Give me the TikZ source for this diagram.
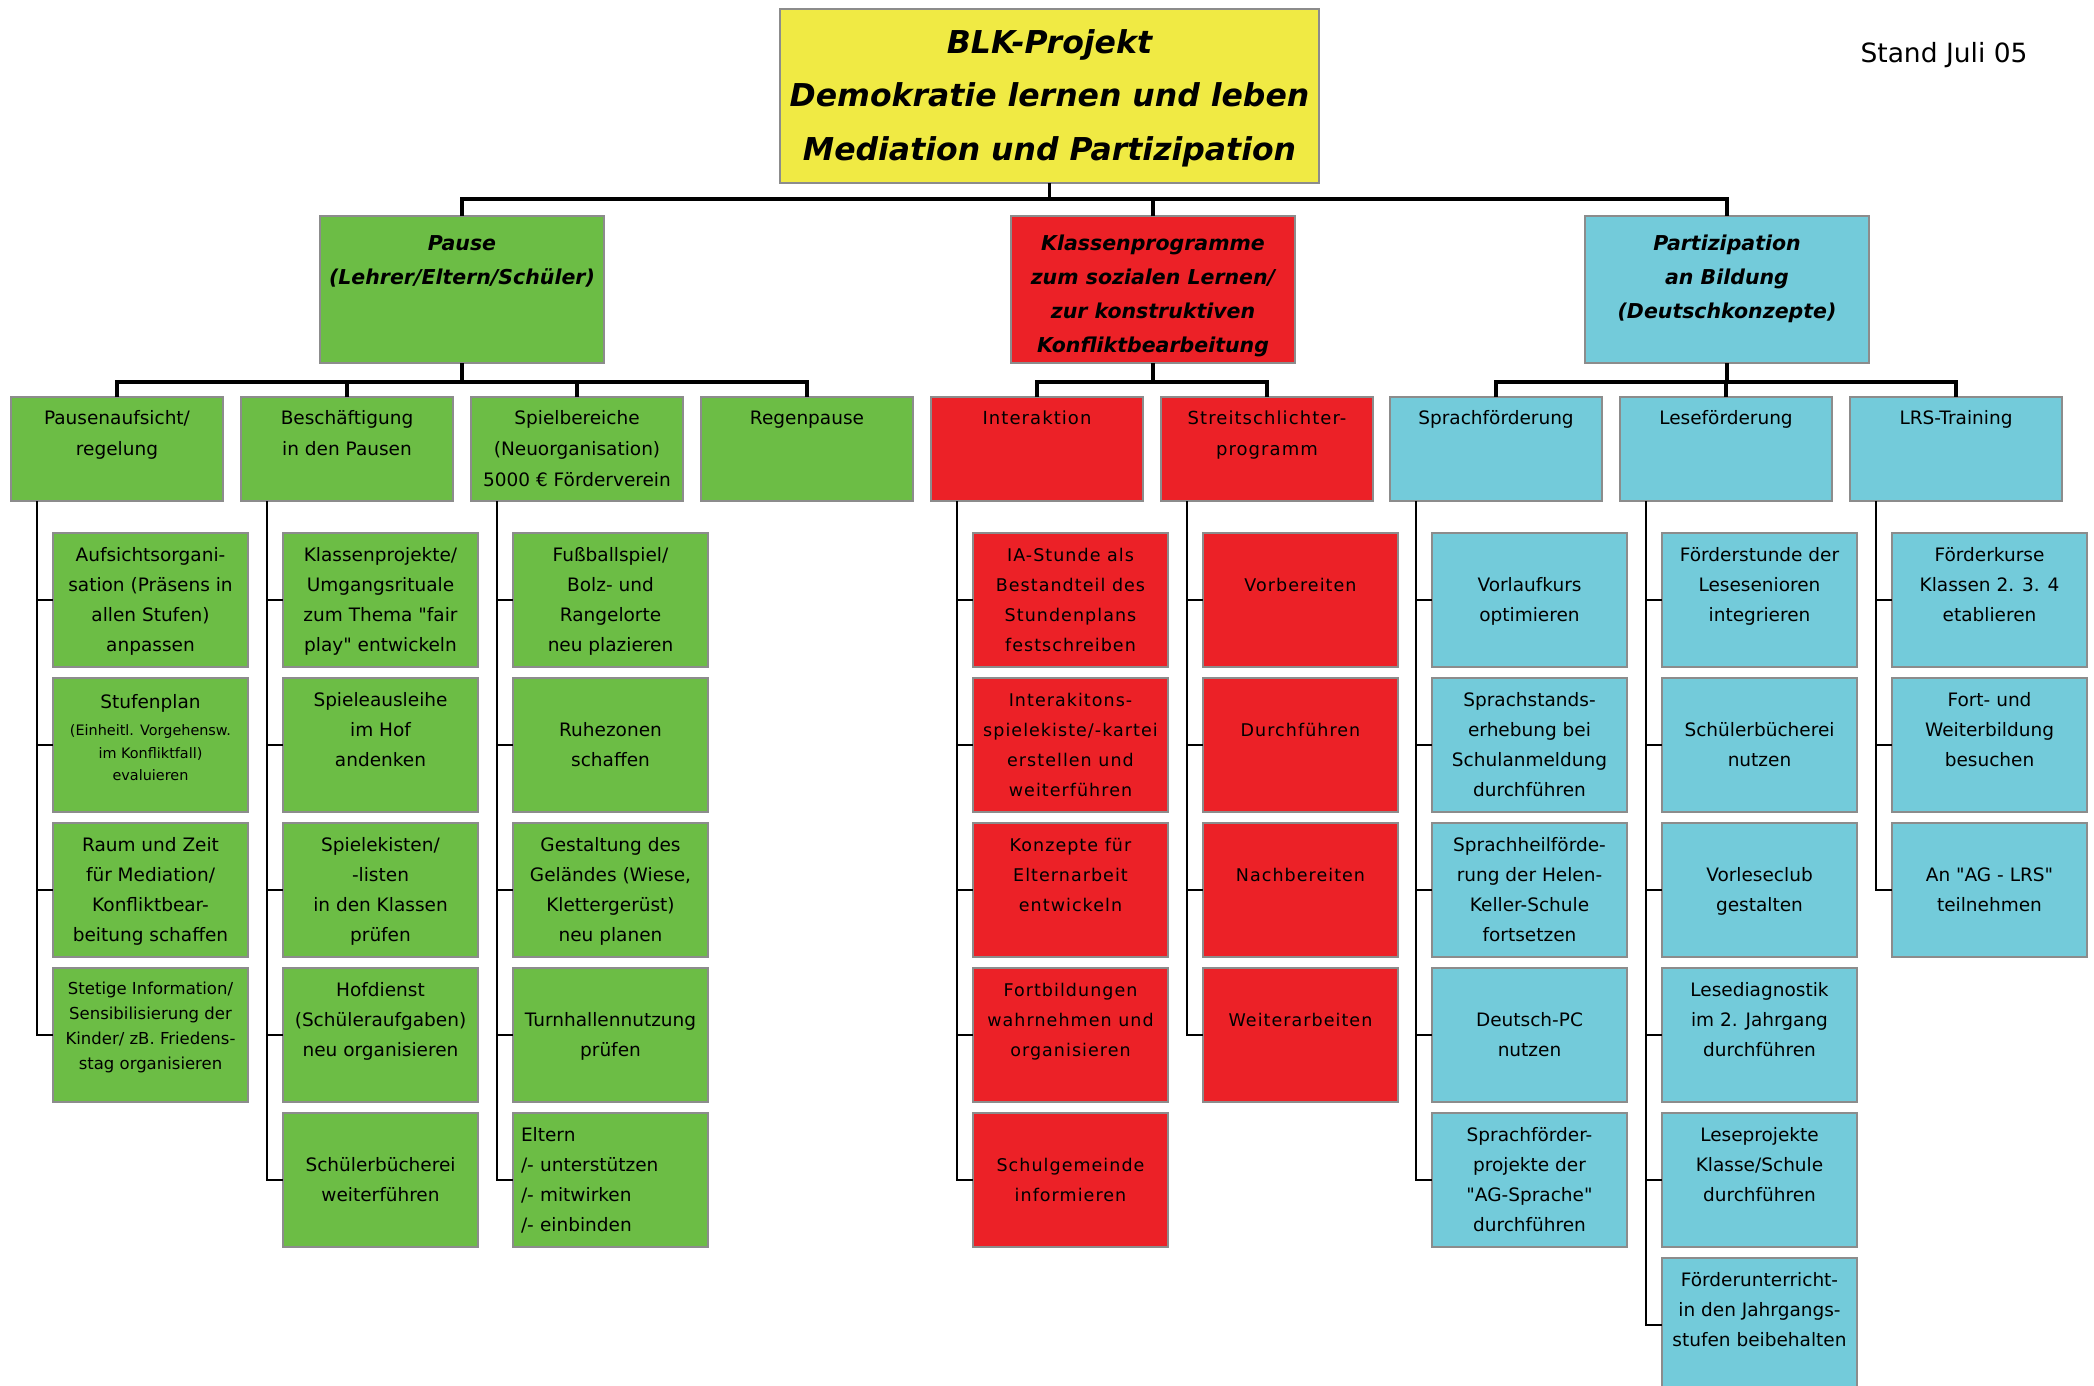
\documentclass[tikz,border=0pt]{standalone}
\usepackage{fontspec}
\setmainfont{DejaVu Sans}
\newfontfamily\redfont[LetterSpace=6]{DejaVu Sans}
\newfontfamily\qfont{DejaVu Sans}
\definecolor{cyel}{RGB}{240,234,68}
\definecolor{cgrn}{RGB}{108,189,69}
\definecolor{cred}{RGB}{236,33,39}
\definecolor{ccyn}{RGB}{115,203,218}
\definecolor{cbrd}{RGB}{140,140,140}
\newcommand\dq{{\qfont\symbol{34}}}
\newcommand\gthree[3]{\strut#1\\\strut#2\\\strut#3}
\newcommand\gfour[4]{\strut#1\\\strut#2\\\strut#3\\\strut#4}
\newcommand\hst{\rule[-5pt]{0pt}{34pt}}
\newcommand\hfour[4]{\hst#1\\\hst#2\\\hst#3\\\hst#4}
\newcommand\smA{\fontsize{14.4}{22}\selectfont}
\newcommand\smB{\fontsize{16.5}{25}\selectfont}
\tikzset{
  box/.style={draw=cbrd, line width=1.6pt, inner sep=0pt, outer sep=0pt, anchor=north west, align=center},
  titlebox/.style={box, fill=cyel, minimum width=539pt, minimum height=174pt, font=\fontsize{31.5}{53.5}\selectfont\bfseries\itshape},
  lone/.style={box, minimum width=284pt, minimum height=147pt, font=\fontsize{20.5}{34}\selectfont\bfseries\itshape},
  ltwo/.style={box, minimum width=212pt, minimum height=104pt, font=\fontsize{18.5}{31}\selectfont},
  ltwored/.style={ltwo, fill=cred, font=\redfont\fontsize{18}{31}\selectfont},
  lthree/.style={box, minimum width=195pt, minimum height=134pt, font=\fontsize{18.5}{30}\selectfont},
  lthreered/.style={lthree, fill=cred, font=\redfont\fontsize{17.5}{30}\selectfont},
  gbox/.style={fill=cgrn},
  rbox/.style={fill=cred},
  cbox/.style={fill=ccyn},
  bus/.style={line width=3.5pt, line join=miter},
  tree/.style={line width=1.8pt, black},
}
\begin{document}
\begin{tikzpicture}[x=1pt,y=-1pt]
\useasboundingbox (0,0) rectangle (2094,1386);

% title
\node[titlebox] (title) at (780,9) {\gthree{BLK-Projekt}{Demokratie lernen und leben}{Mediation und Partizipation}};
\node[font=\fontsize{26.5}{30}\selectfont] (stand) at (1944,55) {Stand Juli 05};

% level 1
\node[lone,gbox] (pause) at (320,216) {\hfour{Pause}{(Lehrer/Eltern/Schüler)}{}{}};
\node[lone,rbox] (klassen) at (1011,216) {\hfour{Klassenprogramme}{zum sozialen Lernen/}{zur konstruktiven}{Konfliktbearbeitung}};
\node[lone,cbox] (partiz) at (1585,216) {\hfour{Partizipation}{an Bildung}{(Deutschkonzepte)}{}};

% level 2
\node[ltwo,gbox] (pa) at (11,397) {\gthree{Pausenaufsicht/}{regelung}{}};
\node[ltwo,gbox] (be) at (241,397) {\gthree{Beschäftigung}{in den Pausen}{}};
\node[ltwo,gbox] (sp) at (471,397) {\gthree{Spielbereiche}{(Neuorganisation)}{5000 € Förderverein}};
\node[ltwo,gbox] (rp) at (701,397) {\gthree{Regenpause}{}{}};
\node[ltwored] (ia) at (931,397) {\gthree{Interaktion}{}{}};
\node[ltwored] (st) at (1161,397) {\gthree{Streitschlichter-}{programm}{}};
\node[ltwo,cbox] (sf) at (1390,397) {\gthree{Sprachförderung}{}{}};
\node[ltwo,cbox] (lf) at (1620,397) {\gthree{Leseförderung}{}{}};
\node[ltwo,cbox] (lr) at (1850,397) {\gthree{LRS-Training}{}{}};

% level 3: Pausenaufsicht
\node[lthree,gbox] (pa1) at (53,533) {\gfour{Aufsichtsorgani-}{sation (Präsens in}{allen Stufen)}{anpassen}};
\node[lthree,gbox] (pa2) at (53,678) {\strut Stufenplan\\[-3pt]\smA (Einheitl. Vorgehensw.\\[-7pt]\smA im Konfliktfall)\\[-8pt]\smA evaluieren\rule[-23pt]{0pt}{1pt}};
\node[lthree,gbox] (pa3) at (53,823) {\gfour{Raum und Zeit}{für Mediation/}{Konfliktbear-}{beitung schaffen}};
\node[lthree,gbox] (pa4) at (53,968) {\smB\rule{0pt}{17pt}Stetige Information/\\[-5pt]\smB Sensibilisierung der\\[-5pt]\smB Kinder/ zB. Friedens-\\[-5pt]\smB stag organisieren\rule[-24pt]{0pt}{1pt}};

% Beschaeftigung
\node[lthree,gbox] (be1) at (283,533) {\gfour{Klassenprojekte/}{Umgangsrituale}{zum Thema \dq fair}{play\dq{} entwickeln}};
\node[lthree,gbox] (be2) at (283,678) {\gfour{Spieleausleihe}{im Hof}{andenken}{}};
\node[lthree,gbox] (be3) at (283,823) {\gfour{Spielekisten/}{-listen}{in den Klassen}{prüfen}};
\node[lthree,gbox] (be4) at (283,968) {\gfour{Hofdienst}{(Schüleraufgaben)}{neu organisieren}{}};
\node[lthree,gbox] (be5) at (283,1113) {\gfour{}{Schülerbücherei}{weiterführen}{}};

% Spielbereiche
\node[lthree,gbox] (sp1) at (513,533) {\gfour{Fußballspiel/}{Bolz- und}{Rangelorte}{neu plazieren}};
\node[lthree,gbox] (sp2) at (513,678) {\gfour{}{Ruhezonen}{schaffen}{}};
\node[lthree,gbox] (sp3) at (513,823) {\gfour{Gestaltung des}{Geländes (Wiese,}{Klettergerüst)}{neu planen}};
\node[lthree,gbox] (sp4) at (513,968) {\gfour{}{Turnhallennutzung}{prüfen}{}};
\node[lthree,gbox,align=left,text width=179pt,inner xsep=8pt] (sp5) at (513,1113) {\gfour{Eltern}{/- unterstützen}{/- mitwirken}{/- einbinden}};

% Interaktion
\node[lthreered] (ia1) at (973,533) {\gfour{IA-Stunde als}{Bestandteil des}{Stundenplans}{festschreiben}};
\node[lthreered] (ia2) at (973,678) {\gfour{Interakitons-}{spielekiste/-kartei}{erstellen und}{weiterführen}};
\node[lthreered] (ia3) at (973,823) {\gfour{Konzepte für}{Elternarbeit}{entwickeln}{}};
\node[lthreered] (ia4) at (973,968) {\gfour{Fortbildungen}{wahrnehmen und}{organisieren}{}};
\node[lthreered] (ia5) at (973,1113) {\gfour{}{Schulgemeinde}{informieren}{}};

% Streitschlichter
\node[lthreered] (st1) at (1203,533) {\gfour{}{Vorbereiten}{}{}};
\node[lthreered] (st2) at (1203,678) {\gfour{}{Durchführen}{}{}};
\node[lthreered] (st3) at (1203,823) {\gfour{}{Nachbereiten}{}{}};
\node[lthreered] (st4) at (1203,968) {\gfour{}{Weiterarbeiten}{}{}};

% Sprachfoerderung
\node[lthree,cbox] (sf1) at (1432,533) {\gfour{}{Vorlaufkurs}{optimieren}{}};
\node[lthree,cbox] (sf2) at (1432,678) {\gfour{Sprachstands-}{erhebung bei}{Schulanmeldung}{durchführen}};
\node[lthree,cbox] (sf3) at (1432,823) {\gfour{Sprachheilförde-}{rung der Helen-}{Keller-Schule}{fortsetzen}};
\node[lthree,cbox] (sf4) at (1432,968) {\gfour{}{Deutsch-PC}{nutzen}{}};
\node[lthree,cbox] (sf5) at (1432,1113) {\gfour{Sprachförder-}{projekte der}{\dq AG-Sprache\dq}{durchführen}};

% Lesefoerderung
\node[lthree,cbox] (lf1) at (1662,533) {\gfour{Förderstunde der}{Lesesenioren}{integrieren}{}};
\node[lthree,cbox] (lf2) at (1662,678) {\gfour{}{Schülerbücherei}{nutzen}{}};
\node[lthree,cbox] (lf3) at (1662,823) {\gfour{}{Vorleseclub}{gestalten}{}};
\node[lthree,cbox] (lf4) at (1662,968) {\gfour{Lesediagnostik}{im 2. Jahrgang}{durchführen}{}};
\node[lthree,cbox] (lf5) at (1662,1113) {\gfour{Leseprojekte}{Klasse/Schule}{durchführen}{}};
\node[lthree,cbox] (lf6) at (1662,1258) {\gfour{Förderunterricht-}{in den Jahrgangs-}{stufen beibehalten}{}};

% LRS
\node[lthree,cbox] (lr1) at (1892,533) {\gfour{Förderkurse}{Klassen 2. 3. 4}{etablieren}{}};
\node[lthree,cbox] (lr2) at (1892,678) {\gfour{Fort- und}{Weiterbildung}{besuchen}{}};
\node[lthree,cbox] (lr3) at (1892,823) {\gfour{}{An \dq AG - LRS\dq}{teilnehmen}{}};

% buses
\coordinate (b0) at (0,199);
\coordinate (b1) at (0,382);
\draw[bus] (title.south) -- (title.south |- b0);
\draw[bus] (pause.north) -- (pause.north |- b0) -- (partiz.north |- b0) -- (partiz.north);
\draw[bus] (klassen.north) -- (klassen.north |- b0);

\draw[bus] (pause.south) -- (pause.south |- b1);
\draw[bus] (pa.north) -- (pa.north |- b1) -- (rp.north |- b1) -- (rp.north);
\draw[bus] (be.north) -- (be.north |- b1);
\draw[bus] (sp.north) -- (sp.north |- b1);

\draw[bus] (klassen.south) -- (klassen.south |- b1);
\draw[bus] (ia.north) -- (ia.north |- b1) -- (st.north |- b1) -- (st.north);

\draw[bus] (partiz.south) -- (partiz.south |- b1);
\draw[bus] (sf.north) -- (sf.north |- b1) -- (lr.north |- b1) -- (lr.north);
\draw[bus] (lf.north) -- (lf.north |- b1);

% trees
\foreach \p/\cs in {pa/{pa1,pa2,pa3,pa4}, be/{be1,be2,be3,be4,be5}, sp/{sp1,sp2,sp3,sp4,sp5}, ia/{ia1,ia2,ia3,ia4,ia5}, st/{st1,st2,st3,st4}, sf/{sf1,sf2,sf3,sf4,sf5}, lf/{lf1,lf2,lf3,lf4,lf5,lf6}, lr/{lr1,lr2,lr3}}{
  \foreach \c in \cs {
    \draw[tree] ([xshift=26pt]\p.south west) |- (\c.west);
  }
}
\end{tikzpicture}
\end{document}
